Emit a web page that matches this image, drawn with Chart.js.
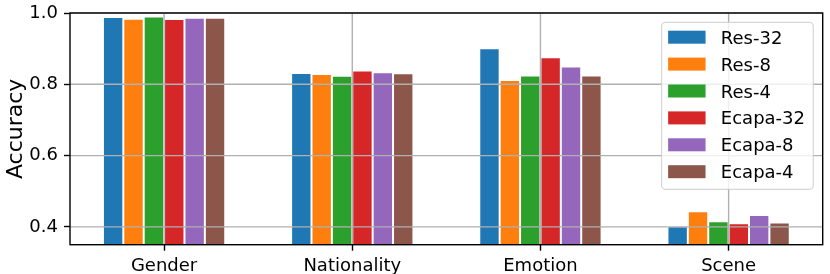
<!doctype html>
<html>
<head>
  <title>Accuracy per task</title>
  <script src="https://cdn.jsdelivr.net/npm/chart.js@4.4.0/dist/chart.umd.min.js"></script>
  <style>
    html, body { margin: 0; padding: 0; background: #fff; }
    canvas { display: block; }
  </style>
</head>
<body>
  <canvas id="myChart" width="830" height="274"></canvas>
  <script>
    var categories = ['Gender', 'Nationality', 'Emotion', 'Scene'];
    var seriesNames = ['Res-32', 'Res-8', 'Res-4', 'Ecapa-32', 'Ecapa-8', 'Ecapa-4'];
    var res32 = [0.989, 0.832, 0.901, 0.402];
    var res8 = [0.984, 0.829, 0.812, 0.444];
    var res4 = [0.990, 0.824, 0.825, 0.416];
    var ecapa32 = [0.983, 0.839, 0.876, 0.410];
    var ecapa8 = [0.987, 0.834, 0.850, 0.433];
    var ecapa4 = [0.987, 0.831, 0.825, 0.412];
    var yTicks = [0.4, 0.6, 0.8, 1.0];

    var seriesColors = ['#1f77b4', '#ff7f0e', '#2ca02c', '#d62728', '#9467bd', '#8c564b'];
    var seriesValues = [res32, res8, res4, ecapa32, ecapa8, ecapa4];
    var fontFamily = "'DejaVu Sans', sans-serif";
    var lineW = 1.4;
    var gridColor = '#b0b0b0';

    var datasets = seriesNames.map(function(name, i) {
      return {
        label: name,
        data: seriesValues[i],
        backgroundColor: seriesColors[i],
        borderColor: 'rgba(255,255,255,0.85)',
        borderWidth: 1,
        borderSkipped: 'start',
        barPercentage: 1.0,
        categoryPercentage: 0.65
      };
    });

    // grid lines, frame and legend are drawn over the bars like matplotlib does
    var overlay = {
      id: 'overlay',
      afterDatasetsDraw: function(chart) {
        var ctx = chart.ctx, area = chart.chartArea;
        var xs = chart.scales.x, ys = chart.scales.y;
        ctx.save();
        ctx.strokeStyle = gridColor;
        ctx.lineWidth = lineW;
        ctx.beginPath();
        xs.ticks.forEach(function(t, i) {
          var px = xs.getPixelForTick(i);
          ctx.moveTo(px, area.top);
          ctx.lineTo(px, area.bottom);
        });
        ys.ticks.forEach(function(t) {
          var py = ys.getPixelForValue(t.value);
          ctx.moveTo(area.left, py);
          ctx.lineTo(area.right, py);
        });
        ctx.stroke();

        ctx.strokeStyle = '#000';
        ctx.strokeRect(area.left, area.top, area.right - area.left, area.bottom - area.top);

        // legend
        ctx.font = '18px ' + fontFamily;
        var maxW = 0;
        seriesNames.forEach(function(n) { maxW = Math.max(maxW, ctx.measureText(n).width); });
        var swW = 37.4, swH = 13, rowH = 26.9;
        var boxW = 6.6 + swW + 15.3 + maxW + 8.3;
        var boxH = 167;
        var bx = area.right - 9.4 - boxW, by = area.top + 9.3;
        ctx.beginPath();
        ctx.roundRect(bx, by, boxW, boxH, 4);
        ctx.fillStyle = 'rgba(255,255,255,0.8)';
        ctx.fill();
        ctx.strokeStyle = 'rgba(204,204,204,0.8)';
        ctx.lineWidth = 1.2;
        ctx.stroke();
        seriesNames.forEach(function(n, i) {
          var cy = by + 14.9 + i * rowH;
          ctx.fillStyle = seriesColors[i];
          ctx.fillRect(bx + 6.6, cy - swH / 2, swW, swH);
          ctx.fillStyle = '#000';
          ctx.textBaseline = 'alphabetic';
          ctx.textAlign = 'left';
          ctx.fillText(n, bx + 6.6 + swW + 15.3, cy + 6.5);
        });
        ctx.restore();
      }
    };

    var config = {
      type: 'bar',
      data: {
        labels: categories,
        datasets: datasets
      },
      options: {
        responsive: false,
        animation: false,
        devicePixelRatio: 1,
        layout: {
          padding: { top: 13, right: 7.3, left: 0, bottom: 0 }
        },
        scales: {
          x: {
            type: 'category',
            grid: {
              offset: false,
              drawOnChartArea: false,
              drawTicks: true,
              tickLength: 6,
              tickColor: '#000',
              tickWidth: lineW
            },
            border: { display: false },
            ticks: {
              color: '#000',
              font: { family: fontFamily, size: 18 },
              padding: 5,
              maxRotation: 0
            },
            afterFit: function(scale) {
              scale.height = 29.3;
              scale.paddingLeft = 0;
              scale.paddingRight = 0;
            }
          },
          y: {
            min: 0.35,
            max: 1.0,
            grid: {
              drawOnChartArea: false,
              drawTicks: true,
              tickLength: 6,
              tickColor: '#000',
              tickWidth: lineW
            },
            border: { display: false },
            afterBuildTicks: function(scale) {
              scale.ticks = yTicks.map(function(v) { return { value: v }; });
            },
            ticks: {
              color: '#000',
              font: { family: fontFamily, size: 18 },
              padding: 6,
              callback: function(v) { return Number(v).toFixed(1); }
            },
            title: {
              display: true,
              text: 'Accuracy',
              color: '#000',
              font: { family: fontFamily, size: 22 },
              padding: { top: 3, bottom: 0 }
            },
            afterFit: function(scale) {
              scale.width = 70;
              scale.paddingTop = 0;
              scale.paddingBottom = 0;
            }
          }
        },
        plugins: {
          legend: { display: false },
          tooltip: { enabled: false }
        }
      },
      plugins: [overlay]
    };

    var ctx = document.getElementById('myChart').getContext('2d');
    window.myChart = new Chart(ctx, config);
  </script>
</body>
</html>
